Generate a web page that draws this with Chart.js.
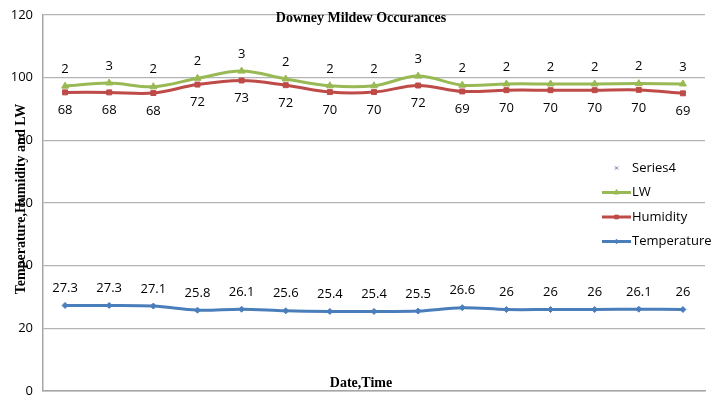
<!DOCTYPE html>
<html>
<head>
<meta charset="utf-8">
<script src="https://cdn.jsdelivr.net/npm/chart.js@4/dist/chart.umd.min.js"></script>
<style>
  html, body { margin: 0; padding: 0; background: #fff; }
  #wrap { width: 721px; height: 409px; }
</style>
</head>
<body>
<div id="wrap"><canvas id="chart" width="721" height="409"></canvas></div>
<script>
// Data (stacked line chart: values are stacked on each other)
const categories = ['1', '2', '3', '4', '5', '6', '7', '8', '9', '10', '11', '12', '13', '14', '15'];
const temperature = [27.3, 27.3, 27.1, 25.8, 26.1, 25.6, 25.4, 25.4, 25.5, 26.6, 26, 26, 26, 26.1, 26];
const humidity = [68, 68, 68, 72, 73, 72, 70, 70, 72, 69, 70, 70, 70, 70, 69];
const lw = [2, 3, 2, 2, 3, 2, 2, 2, 3, 2, 2, 2, 2, 2, 3];
const series4 = [];
const yTicks = [0, 20, 40, 60, 80, 100, 120];

const labelFont = '13px "Open Sans", "Noto Sans", sans-serif';
const titleFont = 'bold 14px "Liberation Serif", "DejaVu Serif", serif';

// data labels: offset in px relative to the point
const labelOffsets = [-17, 18, -17, 0];

const dataLabels = {
    id: 'dataLabels',
    afterDatasetsDraw(chart) {
        const ctx = chart.ctx;
        ctx.save();
        ctx.font = labelFont;
        ctx.fillStyle = '#000';
        ctx.textAlign = 'center';
        ctx.textBaseline = 'middle';
        chart.data.datasets.forEach((ds, i) => {
            const meta = chart.getDatasetMeta(i);
            meta.data.forEach((pt, j) => {
                ctx.fillText(String(ds.data[j]), pt.x, pt.y + labelOffsets[i]);
            });
        });
        ctx.restore();
    }
};

const titles = {
    id: 'titles',
    afterDraw(chart) {
        const ctx = chart.ctx;
        ctx.save();
        ctx.font = titleFont;
        ctx.fillStyle = '#000';
        ctx.textAlign = 'center';
        ctx.textBaseline = 'middle';
        ctx.fillText('Downey Mildew Occurances', 361, 18);
        ctx.fillText('Date,Time', 361, 383);
        ctx.translate(21, 199);
        ctx.rotate(-Math.PI / 2);
        ctx.fillText('Temperature,Humidity and LW', 0, 0);
        ctx.restore();
    }
};

// legend drawn over the plot area on the right, like the original
const sideLegend = {
    id: 'sideLegend',
    afterDraw(chart) {
        const ctx = chart.ctx;
        const x0 = 602, x1 = 631, top = 168, step = 24.5;
        ctx.save();
        ctx.font = labelFont;
        ctx.textBaseline = 'middle';
        const list = chart.data.datasets.slice().reverse();
        list.forEach((ds, k) => {
            const y = top + k * step;
            const mid = (x0 + x1) / 2;
            if (ds.showLine !== false) {
                ctx.strokeStyle = ds.borderColor;
                ctx.lineWidth = ds.borderWidth;
                ctx.beginPath();
                ctx.moveTo(x0, y);
                ctx.lineTo(x1, y);
                ctx.stroke();
            }
            ctx.fillStyle = ds.pointBackgroundColor;
            ctx.strokeStyle = ds.pointBorderColor;
            ctx.lineWidth = 1;
            Chart.helpers.drawPoint(ctx, {
                pointStyle: ds.pointStyle,
                radius: ds.pointRadius * 0.75,
                borderWidth: 1
            }, mid, y);
            ctx.fillStyle = '#000';
            ctx.textAlign = 'left';
            ctx.fillText(ds.label, x1 + 1, y);
        });
        ctx.restore();
    }
};

function lineSet(label, data, color, style, radius) {
    return {
        label: label,
        data: data,
        borderColor: color,
        backgroundColor: color,
        pointBackgroundColor: color,
        pointBorderColor: color,
        borderWidth: 3,
        pointStyle: style,
        pointRadius: radius,
        pointBorderWidth: 1,
        tension: 0.35,
        fill: false
    };
}

const s4 = lineSet('Series4', series4, '#7E649E', 'crossRot', 3);
s4.showLine = false;

new Chart(document.getElementById('chart'), {
    type: 'line',
    data: {
        labels: categories,
        datasets: [
            lineSet('Temperature', temperature, '#4A7EBB', 'rectRot', 3),
            lineSet('Humidity', humidity, '#BE4B48', 'rect', 3.5),
            lineSet('LW', lw, '#98B954', 'triangle', 4),
            s4
        ]
    },
    options: {
        responsive: false,
        animation: false,
        layout: { padding: { left: 0, right: 16, top: 15, bottom: 18 } },
        plugins: {
            legend: { display: false },
            title: { display: false },
            tooltip: { enabled: false }
        },
        scales: {
            x: {
                stacked: true,
                offset: true,
                grid: { display: false, drawTicks: false },
                border: { color: '#a6a6a6', width: 1.5 },
                ticks: { display: false }
            },
            y: {
                stacked: true,
                min: 0,
                max: 120,
                afterBuildTicks(scale) {
                    scale.ticks = yTicks.map(v => ({ value: v }));
                },
                afterFit(scale) {
                    scale.width = 43;
                    scale.paddingTop = 0;
                    scale.paddingBottom = 0;
                },
                grid: { color: '#b3b3b3', lineWidth: 1.2, drawTicks: false },
                border: { color: '#a6a6a6', width: 1.5 },
                ticks: {
                    color: '#000',
                    padding: 10,
                    font: { family: '"Open Sans", "Noto Sans", sans-serif', size: 13 }
                }
            }
        }
    },
    plugins: [dataLabels, titles, sideLegend]
});
</script>
</body>
</html>
